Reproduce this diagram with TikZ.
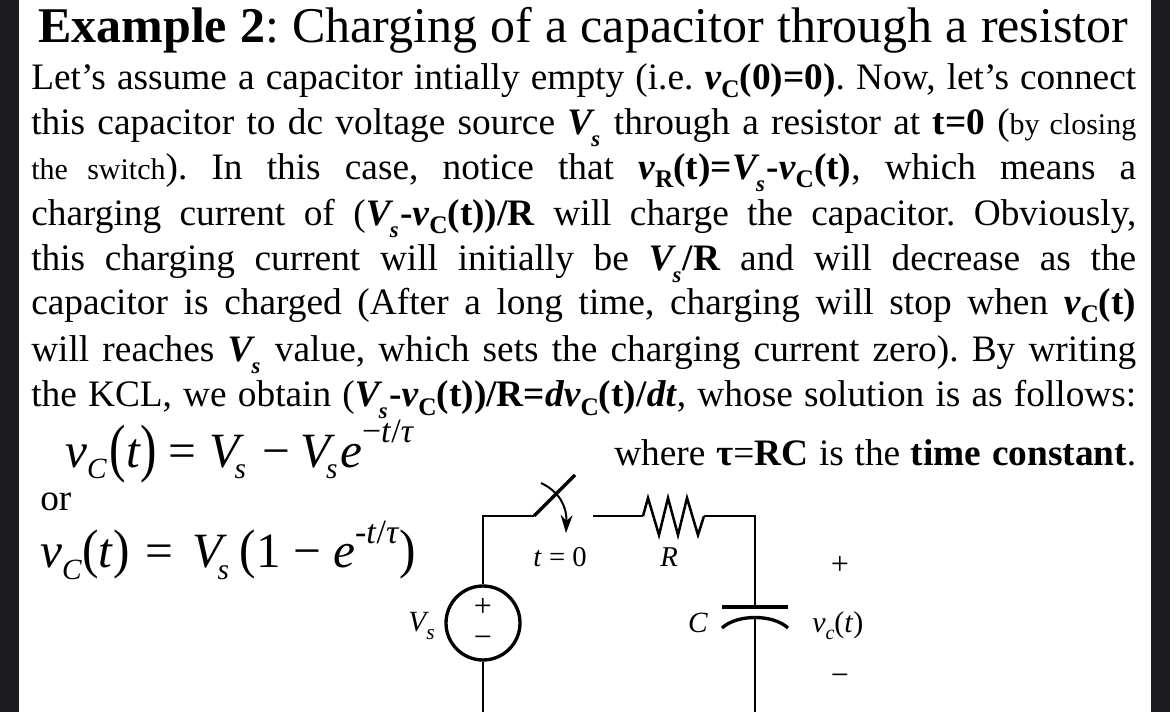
\documentclass[tikz,border=0pt]{standalone}
\usepackage{fontspec}
\usepackage{graphicx}
\setmainfont{Liberation Serif}
\usetikzlibrary{arrows.meta}
\definecolor{strip}{HTML}{1C1C1E}
\newcommand{\jline}[1]{\makebox[828.75pt][s]{#1}}
\newcommand{\bvc}{\textbf{\textit{v}}\raisebox{-6pt}{\textbf{\fontsize{19}{19}\selectfont C}}}
\newcommand{\bvs}{\textbf{\textit{V}}\kern-2.5pt\raisebox{-8.5pt}{\textbf{\textit{\fontsize{17}{17}\selectfont s}}}\kern1pt}
\newcommand{\smalltxt}{\fontsize{22.5}{26}\selectfont}
\newcommand{\paren}[1]{\raisebox{-0.06em}{\scalebox{1}[1.3]{#1}}}
\newcommand{\eqsub}[1]{\raisebox{-9pt}{\fontsize{22}{22}\selectfont\textit{#1}}}
\newcommand{\eqsup}[1]{\raisebox{18pt}{\fontsize{25.5}{26}\selectfont #1}}
\tikzset{
  linetxt/.style={anchor=base west,inner sep=0pt,font=\fontsize{28}{32}\selectfont},
  eqtxt/.style={anchor=base west,inner sep=0pt,font=\fontsize{37}{40}\selectfont},
  lbl/.style={anchor=base,inner sep=0pt,font=\fontsize{21.5}{24}\selectfont},
  sign/.style={anchor=center,inner sep=0pt,font=\fontsize{24}{24}\selectfont},
  wire/.style={line width=1.5pt},
  thick wire/.style={line width=2.5pt}
}
\begin{document}
\frenchspacing
\begin{tikzpicture}[x=0.75pt,y=-0.75pt]
\useasboundingbox (0,0) rectangle (1170,712);
\fill[white] (0,0) rectangle (1170,712);
\fill[strip] (0,0) rectangle (19,712);
\fill[strip] (1151,0) rectangle (1170,712);

% title and text
\node[anchor=base west,inner sep=0pt,font=\fontsize{37.5}{40}\selectfont] (title) at (38,43)
  {\makebox[817.5pt][s]{\textbf{Example 2}: Charging of a capacitor through a resistor}};
\node[linetxt] (l1) at (31,90) {\jline{Let’s assume a capacitor intially empty (i.e. \bvc\textbf{(0)=0)}. Now, let’s connect}};
\node[linetxt] (l2) at (31,135) {\jline{this capacitor to dc voltage source \bvs{} through a resistor at \textbf{t=0} ({\smalltxt by closing}}};
\node[linetxt] (l3) at (31,180) {\jline{{\smalltxt the switch}). In this case, notice that \textbf{\textit{v}}\raisebox{-6pt}{\textbf{\fontsize{19}{19}\selectfont R}}\textbf{(t)=}\bvs\textbf{-}\bvc\textbf{(t)}, which means a}};
\node[linetxt] (l4) at (31,226) {\jline{charging current of (\bvs\textbf{-}\bvc\textbf{(t))/R} will charge the capacitor. Obviously,}};
\node[linetxt] (l5) at (31,271) {\jline{this charging current will initially be \bvs\textbf{/R} and will decrease as the}};
\node[linetxt] (l6) at (31,315) {\jline{capacitor is charged (After a long time, charging will stop when \bvc\textbf{(t)}}};
\node[linetxt] (l7) at (31,362) {\jline{will reaches \bvs{} value, which sets the charging current zero). By writing}};
\node[linetxt] (l8) at (31,407) {\jline{the KCL, we obtain (\bvs\textbf{-}\bvc\textbf{(t))/R=}\textbf{\textit{dv}}\raisebox{-6pt}{\textbf{\fontsize{19}{19}\selectfont C}}\textbf{(t)/}\textbf{\textit{dt}}, whose solution is as follows:}};
\node[linetxt] (where) at (614,465) {\makebox[391.5pt][s]{where \textbf{τ}=\textbf{RC} is the \textbf{time constant}.}};
\node[linetxt] (or) at (40,510) {or};

% equations
\node[eqtxt] (eq1) at (65,467) {\textit{v}\eqsub{C}\kern2pt\paren{(}\textit{t}\paren{)}\kern8.5pt=\kern9.5pt\textit{V}\kern-7pt\eqsub{s}\kern12pt−\kern8pt\textit{V}\kern-7pt\eqsub{s}\kern2pt\textit{e}\eqsup{−\textit{t}/\textit{τ}}};
\node[eqtxt] (eq2) at (40,567) {\textit{v}\eqsub{C}\scalebox{1}[1.1]{(}\textit{t}\scalebox{1}[1.1]{)}\kern12pt=\kern14pt\textit{V}\kern-7pt\eqsub{s}\kern8pt\scalebox{1}[1.1]{(}1 − \textit{e}\eqsup{-\textit{t}/\textit{τ}}\scalebox{1}[1.1]{)}};

% circuit
\node[draw,circle,thick wire,minimum size=55.5pt,inner sep=0pt] (src) at (483,623) {};
\coordinate (botl) at (483,712);
\coordinate (topl) at (483,516);
\coordinate (swl) at (534,516);
\coordinate (swend) at (575,475);
\coordinate (swr) at (593,516);
\coordinate (resl) at (643,516);
\coordinate (resr) at (704,516);
\coordinate (topr) at (755,516);
\coordinate (capt) at (755,607);
\coordinate (capb) at (755,617);
\coordinate (botr) at (755,712);
\coordinate (arca) at (541,483);
\coordinate (arcb) at (566,533);
\coordinate (pla) at (722,607);
\coordinate (plb) at (788,607);
\coordinate (pca) at (722,628);
\coordinate (pcb) at (788,628);

\draw[wire] (src) -- (topl) -- (swl);
\draw[wire] (src) -- (botl);
\draw[thick wire] (swl) -- (swend);
\draw[wire] (swr) -- (resl);
\draw[wire] (resr) -- (topr) -- (capt);
\draw[wire] (capb) -- (botr);
\draw[line width=1.9pt,line join=miter] (resl) -- (648,498) -- (659,535) -- (668,498) -- (678,535) -- (687,498) -- (698,535) -- (resr);
\draw[thick wire] (pla) -- (plb);
\draw[thick wire] (pca) .. controls (737,614) and (773,614) .. (pcb);
\draw[wire,-{Stealth[length=13.5pt,width=9pt]}] (arca) .. controls (558,491) and (567,505) .. (arcb);

% circuit labels
\node[lbl] (tlab) at (560,566) {\textit{t} = 0};
\node[lbl] (rlab) at (669,566) {\textit{R}};
\node[lbl,font=\fontsize{22}{24}\selectfont] (clab) at (698,632) {\textit{C}};
\node[lbl,anchor=base west,font=\fontsize{22}{24}\selectfont] (vlab) at (408,631) {\textit{V}\kern-2pt\raisebox{-0.3em}{\fontsize{16}{16}\selectfont\textit{s}}};
\node[lbl,anchor=base west,font=\fontsize{22.5}{24}\selectfont] (vclab) at (812,632) {\textit{v}\raisebox{-0.25em}{\fontsize{15}{15}\selectfont\textit{c}}(\textit{t})};
\node[sign] (plus) at (840,565) {+};
\node[sign] (minus) at (840,680) {−};
\node[sign] (splus) at (483,607) {+};
\node[sign] (sminus) at (483,642) {−};
\end{tikzpicture}
\end{document}
